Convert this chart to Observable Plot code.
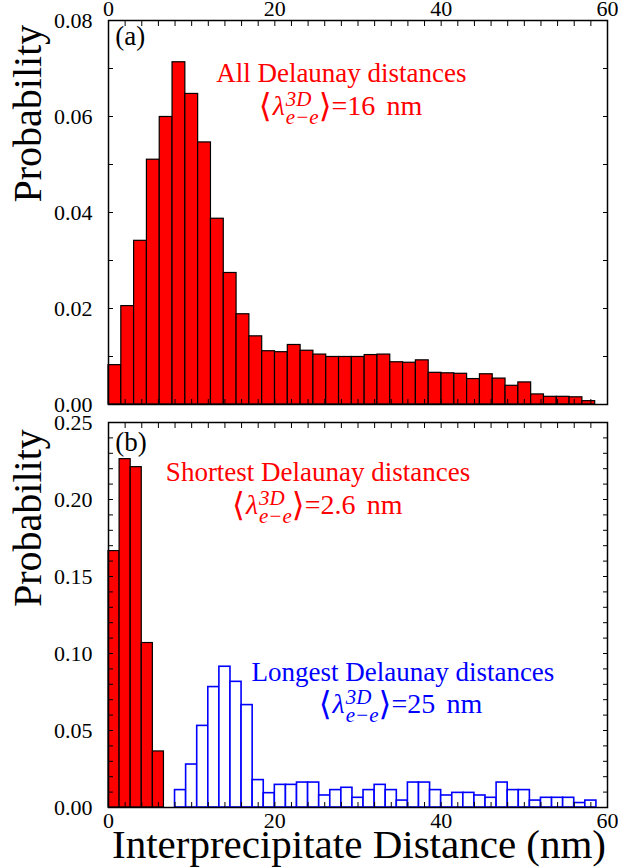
<!DOCTYPE html>
<html>
<head>
<meta charset="utf-8">
<script src="https://cdn.jsdelivr.net/npm/d3@7"></script>
<script src="https://cdn.jsdelivr.net/npm/@observablehq/plot@0.6"></script>
<style>
html, body { margin: 0; padding: 0; background: #fff; }
#chart { width: 618px; height: 867px; position: relative; overflow: hidden; background: #fff; }
#chart svg { display: block; }
</style>
</head>
<body>
<div id="chart"></div>
<script>
// ---------- data ----------
// (a) all Delaunay distances: bin width (nm) and probability per bin, bins start at 0
const allBinWidth = 1.54;
const allProbability = [
  0.0082, 0.0205, 0.0341, 0.0510, 0.0599, 0.0713, 0.0647, 0.0546, 0.0387, 0.0274,
  0.0188, 0.0142, 0.0111, 0.0109, 0.0124, 0.0112, 0.0104, 0.0099, 0.0099, 0.0099,
  0.0103, 0.0104, 0.0088, 0.0087, 0.0092, 0.0066, 0.0065, 0.0064, 0.0053, 0.0063,
  0.0054, 0.0039, 0.0046, 0.0021, 0.0016, 0.0016, 0.0015, 0.0007
];
// (b) shortest / longest Delaunay distances
const splitBinWidth = 4 / 3;
const shortestProbability = [0.1665, 0.2262, 0.2210, 0.1068, 0.0364];
const longestFirstBin = 6;
const longestProbability = [
  0.0113, 0.0279, 0.0530, 0.0782, 0.0914, 0.0816, 0.0665, 0.0178, 0.0093, 0.0147,
  0.0147, 0.0162, 0.0162, 0.0078, 0.0113, 0.0128, 0.0063, 0.0113, 0.0147, 0.0113,
  0.0045, 0.0162, 0.0162, 0.0113, 0.0078, 0.0095, 0.0095, 0.0078, 0.0063, 0.0162,
  0.0113, 0.0113, 0.0045, 0.0063, 0.0063, 0.0063, 0.0029, 0.0045
];
// tick labels
const xTickLabels = [0, 20, 40, 60];
const xMinorTicks = [0, 2, 4, 6, 8, 10, 12, 14, 16, 18, 20, 22, 24, 26, 28, 30, 32, 34, 36, 38, 40, 42, 44, 46, 48, 50, 52, 54, 56, 58, 60];
const topYTickLabels = [0, 0.02, 0.04, 0.06, 0.08];
const topYMinorTicks = [0, 0.01, 0.02, 0.03, 0.04, 0.05, 0.06, 0.07, 0.08];
const bottomYTickLabels = [0, 0.05, 0.10, 0.15, 0.20, 0.25];
const bottomYMinorTicks = d3.range(0, 26).map(i => i / 100);
// texts
const panelLabels = ["(a)", "(b)"];
const seriesNames = ["All Delaunay distances", "Shortest Delaunay distances", "Longest Delaunay distances"];
const meanValues = ["16 nm", "2.6 nm", "25 nm"];
const yTitle = "Probability";
const xTitle = "Interprecipitate Distance (nm)";

// ---------- tables ----------
const allData = allProbability.map((p, i) => ({x1: i * allBinWidth, x2: (i + 1) * allBinWidth, p}));
const shortData = shortestProbability.map((p, i) => ({x1: i * splitBinWidth, x2: (i + 1) * splitBinWidth, p}));
const longData = longestProbability.map((p, i) => ({x1: (longestFirstBin + i) * splitBinWidth, x2: (longestFirstBin + i + 1) * splitBinWidth, p}));

const serif = "'Liberation Serif', 'Times New Roman', serif";
const RED = "#ff0000", BLUE = "#0000ff";

function axes(yLabels, yMinor, labelSide) {
  const blank = () => "";
  return [
    Plot.axisX({anchor: "top", ticks: xMinorTicks, tickSize: -5, tickFormat: blank, label: null}),
    Plot.axisX({anchor: "bottom", ticks: xMinorTicks, tickSize: -5, tickFormat: blank, label: null}),
    Plot.axisX({anchor: labelSide, ticks: xTickLabels, tickSize: 0, tickPadding: 5, fontSize: 22, label: null}),
    Plot.axisY({anchor: "left", ticks: yMinor, tickSize: -5, tickFormat: blank, label: null}),
    Plot.axisY({anchor: "right", ticks: yMinor, tickSize: -5, tickFormat: blank, label: null}),
    Plot.axisY({anchor: "left", ticks: yLabels, tickSize: 0, tickPadding: 16, tickFormat: d3.format(".2f"), fontSize: 22, label: null})
  ];
}

const common = {
  width: 618,
  marginLeft: 108,
  marginRight: 11,
  style: {fontFamily: serif, fontSize: "22px", background: "transparent", overflow: "visible", color: "black"}
};

const topPlot = Plot.plot({
  ...common,
  height: 412,
  marginTop: 20,
  marginBottom: 8,
  x: {domain: [0, 60]},
  y: {domain: [0, 0.08]},
  marks: [
    Plot.rectY(allData, {x1: "x1", x2: "x2", y: "p", fill: RED, stroke: "black", strokeWidth: 1.2, inset: 0}),
    Plot.frame({stroke: "black", strokeWidth: 1.5}),
    ...axes(topYTickLabels, topYMinorTicks, "top"),
    Plot.text([panelLabels[0]], {x: () => 0.8, y: () => 0.0766, text: d => d, textAnchor: "start", fontSize: 27, fill: "black"}),
    Plot.text([seriesNames[0]], {x: () => 28, y: () => 0.0689, text: d => d, fontSize: 27, fill: RED}),
    Plot.text([meanValues[0]], {x: () => 27.9, y: () => 0.0621, text: d => d, fontSize: 28, fill: RED}),
    Plot.text([yTitle], {frameAnchor: "left", lineAnchor: "middle", dx: -80, dy: -10, rotate: -90, text: d => d, fontSize: 40, fill: "black"})
  ]
});

const bottomPlot = Plot.plot({
  ...common,
  height: 455,
  marginTop: 10,
  marginBottom: 60,
  x: {domain: [0, 60]},
  y: {domain: [0, 0.25]},
  marks: [
    Plot.rectY(shortData, {x1: "x1", x2: "x2", y: "p", fill: RED, stroke: "black", strokeWidth: 1.2, inset: 0}),
    Plot.rectY(longData, {x1: "x1", x2: "x2", y: "p", fill: "white", stroke: BLUE, strokeWidth: 1.6, inset: 0}),
    Plot.frame({stroke: "black", strokeWidth: 1.5}),
    ...axes(bottomYTickLabels, bottomYMinorTicks, "bottom"),
    Plot.text([panelLabels[1]], {x: () => 0.8, y: () => 0.237, text: d => d, textAnchor: "start", fontSize: 27, fill: "black"}),
    Plot.text([seriesNames[1]], {x: () => 25.2, y: () => 0.2177, text: d => d, fontSize: 27, fill: RED}),
    Plot.text([meanValues[1]], {x: () => 25.1, y: () => 0.1965, text: d => d, fontSize: 28, fill: RED}),
    Plot.text([seriesNames[2]], {x: () => 35.4, y: () => 0.0879, text: d => d, fontSize: 27, fill: BLUE}),
    Plot.text([meanValues[2]], {x: () => 35.1, y: () => 0.0673, text: d => d, fontSize: 28, fill: BLUE}),
    Plot.text([yTitle], {frameAnchor: "left", lineAnchor: "middle", dx: -80, dy: -8, rotate: -90, text: d => d, fontSize: 40, fill: "black"}),
    Plot.text([xTitle], {frameAnchor: "bottom", lineAnchor: "middle", dx: 1, dy: 37, text: d => d, fontSize: 41, fill: "black"})
  ]
});

const chart = document.getElementById("chart");
chart.appendChild(topPlot);
chart.appendChild(bottomPlot);

// ---------- text post-processing (math notation for the mean distance) ----------
function textsWith(svg, content) {
  return d3.select(svg).selectAll("text").filter(function () { return this.textContent === content; });
}
function buildFormula(svg, val) {
  textsWith(svg, val).each(function () {
    const t = d3.select(this);
    t.text(null);
    t.append("tspan").attr("font-family", "'DejaVu Serif', serif").attr("font-size", 33).attr("dy", 2).text("\u27E8");
    t.append("tspan").attr("font-style", "italic").attr("dx", 1).attr("dy", -2).text("\u03BB");
    const sup = t.append("tspan").attr("font-style", "italic").attr("font-size", 21).attr("dx", 1).attr("dy", -9).text("3D");
    const w = sup.node().getComputedTextLength();
    t.append("tspan").attr("font-style", "italic").attr("font-size", 21).attr("dx", -w).attr("dy", 18).text("e\u2212e");
    t.append("tspan").attr("font-family", "'DejaVu Serif', serif").attr("font-size", 33).attr("dy", -7).text("\u27E9");
    t.append("tspan").attr("dy", -2).text("=" + val.replace(" ", "\u2009\u2009"));
  });
}
buildFormula(topPlot, meanValues[0]);
buildFormula(bottomPlot, meanValues[1]);
buildFormula(bottomPlot, meanValues[2]);
</script>
</body>
</html>
